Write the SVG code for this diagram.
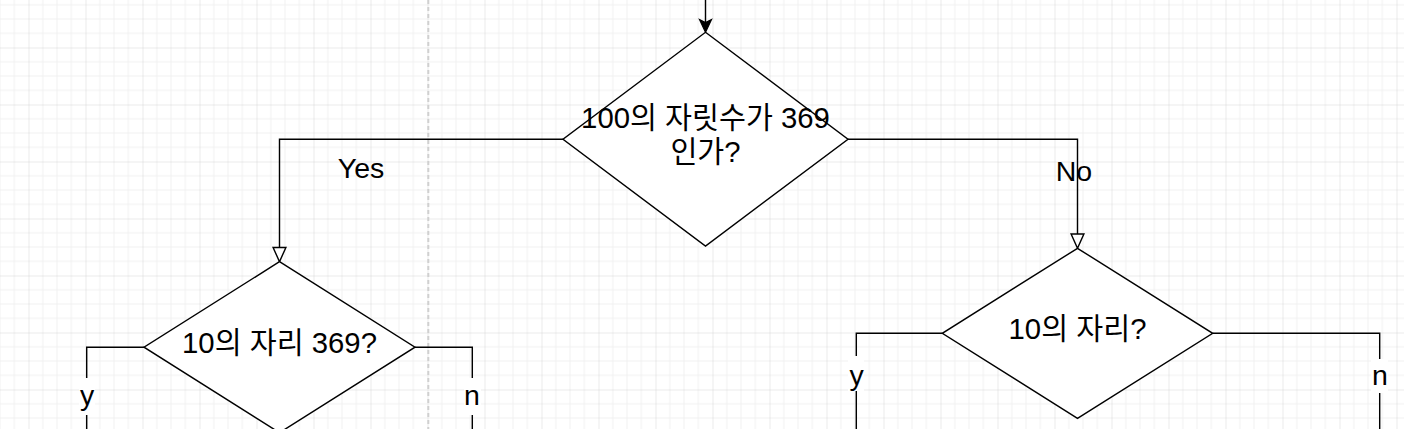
<svg xmlns="http://www.w3.org/2000/svg" width="1404" height="429" viewBox="0 0 1404 429">
  <style>
    .shape { fill: #ffffff; stroke: #000000; stroke-width: 1.425; }
    .edge { fill: none; stroke: #000000; stroke-width: 1.425; }
    .txt { font-family: "Liberation Sans", "Noto Sans CJK KR", Arial, sans-serif; font-size: 28.5px; fill: #000000; text-anchor: middle; }
    .ntxt { font-size: 29.3px; }
    .lblbg { fill: #ffffff; stroke: none; }
    .minor { stroke: #f0f0f0; stroke-width: 1; }
    .major { stroke: #d6d6d6; stroke-width: 1; }
  </style>
  <defs>
    <pattern id="grid" patternUnits="userSpaceOnUse" x="28.5" y="47.5" width="57" height="57">
      <line class="minor" x1="14.25" y1="0" x2="14.25" y2="57"/>
      <line class="minor" x1="28.5" y1="0" x2="28.5" y2="57"/>
      <line class="minor" x1="42.75" y1="0" x2="42.75" y2="57"/>
      <line class="minor" x1="0" y1="14.25" x2="57" y2="14.25"/>
      <line class="minor" x1="0" y1="28.5" x2="57" y2="28.5"/>
      <line class="minor" x1="0" y1="42.75" x2="57" y2="42.75"/>
      <line class="major" x1="0" y1="0" x2="0" y2="57"/>
      <line class="major" x1="0" y1="0" x2="57" y2="0"/>
    </pattern>
  </defs>

  <rect x="0" y="0" width="1404" height="429" fill="#ffffff"/>
  <rect x="0" y="0" width="1404" height="429" fill="url(#grid)"/>
  <line x1="428.3" y1="0" x2="428.3" y2="429" stroke="#d0d0d0" stroke-width="2" stroke-dasharray="4 3"/>

  <g id="connectors">
    <!-- into top decision -->
    <line class="edge" x1="705.5" y1="0" x2="705.5" y2="22"/>
    <path d="M699.5,19.5 L705.5,32.3 L711.5,19.5 L705.5,22.5 Z" fill="#000000" stroke="#000000" stroke-width="1.2" stroke-linejoin="miter"/>
    <!-- Yes branch -->
    <polyline class="edge" points="563.3,139.2 279.5,139.2 279.5,247.5"/>
    <polygon class="shape" points="273.1,247.5 285.9,247.5 279.5,261.7"/>
    <text class="txt" x="361" y="178">Yes</text>
    <!-- No branch -->
    <polyline class="edge" points="847.7,139.2 1077.5,139.2 1077.5,234"/>
    <polygon class="shape" points="1071.1,234 1083.9,234 1077.5,248.3"/>
    <text class="txt" x="1074" y="181">No</text>
    <!-- left decision y / n -->
    <polyline class="edge" points="144,347.2 86.7,347.2 86.7,429"/>
    <rect class="lblbg" x="79" y="378" width="16" height="37"/>
    <text class="txt" x="87" y="405">y</text>
    <polyline class="edge" points="415,347.2 472.3,347.2 472.3,429"/>
    <rect class="lblbg" x="464" y="378" width="17" height="37"/>
    <text class="txt" x="472" y="405">n</text>
    <!-- right decision y / n -->
    <polyline class="edge" points="942.3,333.3 856.3,333.3 856.3,429"/>
    <rect class="lblbg" x="848" y="356" width="16" height="35"/>
    <text class="txt" x="856.5" y="385">y</text>
    <polyline class="edge" points="1212.7,333.3 1379.7,333.3 1379.7,429"/>
    <rect class="lblbg" x="1371" y="359" width="17" height="34"/>
    <text class="txt" x="1380" y="385">n</text>
  </g>

  <g id="node-hundreds">
    <polygon class="shape" points="705.5,32.3 848,139.2 705.5,246 563,139.2"/>
    <text class="txt ntxt" x="705.5" y="128.3">100의 자릿수가 369</text>
    <text class="txt ntxt" x="705.5" y="162.3">인가?</text>
  </g>

  <g id="node-tens-369">
    <polygon class="shape" points="279.5,261.7 415,347.2 279.5,432.7 144,347.2"/>
    <text class="txt ntxt" x="279.5" y="353.3">10의 자리 369?</text>
  </g>

  <g id="node-tens">
    <polygon class="shape" points="1077.5,248.3 1212.7,333.3 1077.5,418.3 942.3,333.3"/>
    <text class="txt ntxt" x="1077.5" y="339.3">10의 자리?</text>
  </g>
</svg>
